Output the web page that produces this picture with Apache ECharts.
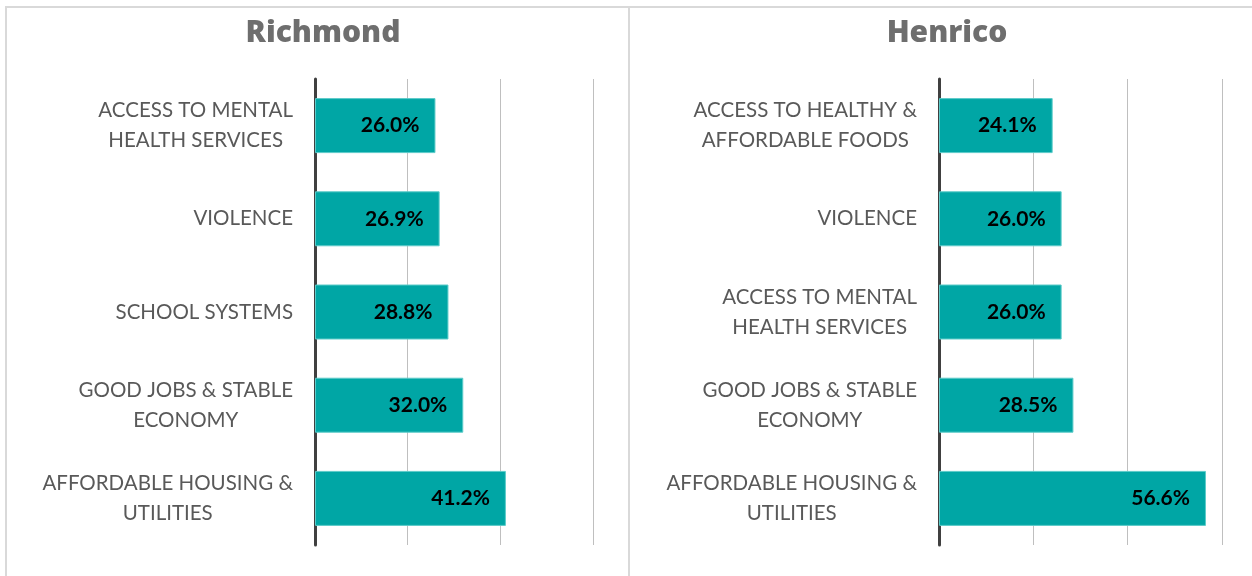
<!DOCTYPE html>
<html>
<head>
<meta charset="utf-8">
<script src="https://cdn.jsdelivr.net/npm/echarts@6/dist/echarts.min.js"></script>
<style>
  html, body { margin: 0; padding: 0; background: #ffffff; }
  #chart { width: 1252px; height: 576px; }
</style>
</head>
<body>
<div id="chart"></div>
<script>
// Top concerns by locality, share of respondents (%)
const richmondCategories = [
  'ACCESS TO MENTAL\nHEALTH SERVICES',
  'VIOLENCE',
  'SCHOOL SYSTEMS',
  'GOOD JOBS & STABLE\nECONOMY',
  'AFFORDABLE HOUSING &\nUTILITIES'
];
const richmondValues = [26.0, 26.9, 28.8, 32.0, 41.2];

const henricoCategories = [
  'ACCESS TO HEALTHY &\nAFFORDABLE FOODS',
  'VIOLENCE',
  'ACCESS TO MENTAL\nHEALTH SERVICES',
  'GOOD JOBS & STABLE\nECONOMY',
  'AFFORDABLE HOUSING &\nUTILITIES'
];
const henricoValues = [24.1, 26.0, 26.0, 28.5, 56.6];

const panelTitles = ['Richmond', 'Henrico'];
const axisMax = 60;
const axisStep = 20;

const chart = echarts.init(document.getElementById('chart'));

const TEAL = '#00A6A5';
const labelFont = 'Lato, "Open Sans", sans-serif';
const titleStyle = { fontFamily: '"Open Sans", "Noto Sans", sans-serif', fontWeight: 800, fontSize: 30, color: '#6E6E6E' };

// center each line of a multi-line category label within its right-aligned block
function centeredLines(v) {
  return v.split('\n').map(s => '{c|' + s + '}').join('\n');
}

function categoryAxis(idx, cats) {
  return {
    type: 'category',
    gridIndex: idx,
    data: cats,
    inverse: true,
    axisLine: { show: true, lineStyle: { color: '#404040', width: 3 } },
    axisTick: { show: false },
    axisLabel: {
      margin: 22,
      align: 'right',
      formatter: centeredLines,
      rich: {
        c: {
          align: 'center',
          fontFamily: labelFont,
          fontSize: 20.5,
          color: '#595959',
          lineHeight: 30
        }
      }
    }
  };
}

function valueAxis(idx) {
  return {
    type: 'value',
    gridIndex: idx,
    min: 0,
    max: axisMax,
    interval: axisStep,
    axisLine: { show: false },
    axisTick: { show: false },
    axisLabel: { show: false },
    splitLine: { show: true, lineStyle: { color: '#BFBFBF', width: 1 } }
  };
}

function barSeries(idx, values) {
  return {
    type: 'bar',
    xAxisIndex: idx,
    yAxisIndex: idx,
    data: values,
    barCategoryGap: '41%',
    itemStyle: { color: TEAL, borderColor: '#5CCBC9', borderWidth: 1 },
    label: {
      show: true,
      position: 'insideRight',
      distance: 16,
      formatter: p => p.value.toFixed(1) + '%',
      fontFamily: labelFont,
      fontWeight: 'bold',
      fontSize: 21,
      color: '#000000'
    },
    silent: true
  };
}

chart.setOption({
  animation: false,
  backgroundColor: '#ffffff',
  title: [
    { text: panelTitles[0], left: 318, top: 13, textAlign: 'center', textStyle: titleStyle },
    { text: panelTitles[1], left: 942, top: 13, textAlign: 'center', textStyle: titleStyle }
  ],
  graphic: [
    { type: 'rect', shape: { x: 6, y: 7, width: 623, height: 620 }, style: { fill: 'none', stroke: '#D9D9D9', lineWidth: 2 }, silent: true },
    { type: 'rect', shape: { x: 629, y: 7, width: 640, height: 620 }, style: { fill: 'none', stroke: '#D9D9D9', lineWidth: 2 }, silent: true }
  ],
  grid: [
    { left: 315, top: 79, width: 278, height: 466 },
    { left: 939, top: 79, width: 283, height: 466 }
  ],
  xAxis: [valueAxis(0), valueAxis(1)],
  yAxis: [categoryAxis(0, richmondCategories), categoryAxis(1, henricoCategories)],
  series: [barSeries(0, richmondValues), barSeries(1, henricoValues)]
});
</script>
</body>
</html>
